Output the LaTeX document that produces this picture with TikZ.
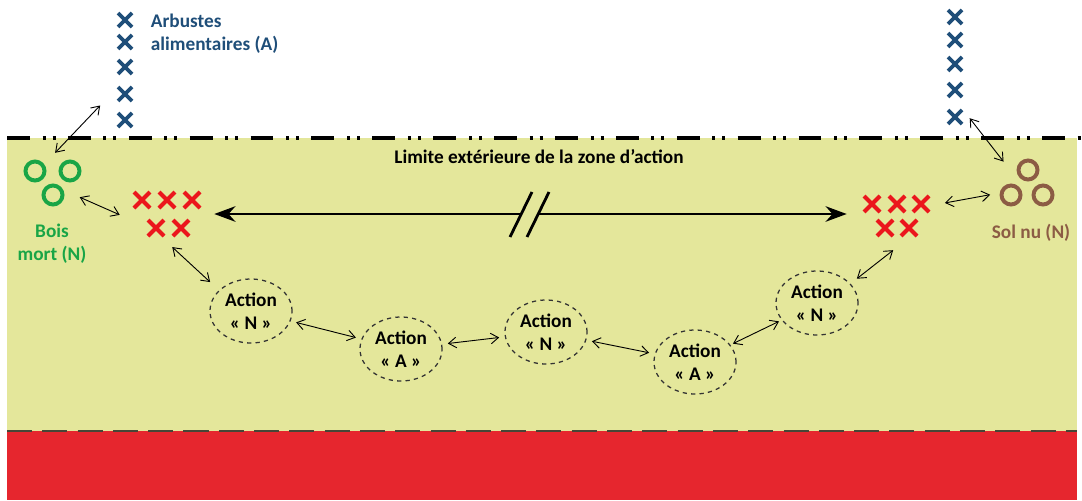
\documentclass[tikz,border=0pt]{standalone}
\usepackage{fontspec}
\setmainfont{Carlito}
\usetikzlibrary{arrows.meta,shapes.geometric}
\definecolor{B}{RGB}{31,78,121}
\definecolor{V}{RGB}{25,165,70}
\definecolor{M}{RGB}{140,92,68}
\definecolor{R}{RGB}{235,22,28}
\definecolor{J}{RGB}{228,231,155}
\definecolor{S}{RGB}{230,38,46}
\definecolor{G}{RGB}{70,70,55}

\begin{document}
\begin{tikzpicture}[x=0.025cm, y=-0.025cm,
    texte/.style={font=\fontsize{13.7}{16.3}\selectfont\bfseries},
    zone/.style={ellipse, inner sep=0pt},
    action/.style={ellipse, draw=black!80, dashed, line width=0.9pt, inner sep=0pt,
        minimum width=2.05cm, minimum height=1.6cm, align=center, texte},
    fleche/.style={<->, >={Straight Barb[length=5.5pt,width=7.5pt]}, line width=0.65pt},
    grande/.style={line width=2pt, >={Stealth[length=15pt,width=11pt]}},
    croix/.pic={\draw (-#1,-#1) -- (#1,#1) (-#1,#1) -- (#1,-#1);}]

    \useasboundingbox[fill=white] (0,0) rectangle (1082,500);

    %Zona de accion (amarillo) y suelo (rojo)
    \fill[color=J] (7,138) rectangle (1077,431);
    \fill[color=S] (7,431) rectangle (1077,500);
    \draw[color=G, line width=1.6pt, dash pattern=on 17.8pt off 7.3pt] (7,431) -- (1077,431);
    \draw[line width=2.2pt, dash pattern=on 16.3pt off 9pt on 2.1pt off 5pt on 2.1pt off 8.8pt] (7,138) -- (1082,138);
    \node[texte] (limite) at (539,157) {Limite extérieure de la zone d’action};

    %Arbustes a la izquierda y a la derecha
    \foreach \y in {20,42,67,94,120}
        \pic[color=B, line width=2.6pt] at (125,\y) {croix=7};
    \foreach \y in {17,40,64,90,117}
        \pic[color=B, line width=2.6pt] at (955,\y) {croix=7};
    \node[texte, color=B, align=left, anchor=west] (txtArb) at (146,33.5) {Arbustes\\alimentaires (A)};
    \node[zone, minimum width=2.15cm, minimum height=2.15cm] (arbG) at (125,70) {};
    \node[zone, minimum width=2.65cm, minimum height=2.65cm] (arbD) at (955,67) {};

    %Bois mort (verde)
    \draw[color=V, line width=2.8pt] (35,171) circle (9.5);
    \draw[color=V, line width=2.8pt] (70,171) circle (9.5);
    \draw[color=V, line width=2.8pt] (53,195) circle (9.5);
    \node[texte, color=V, align=center] (txtBois) at (52,244) {Bois\\mort (N)};
    \node[zone, minimum width=1.5cm, minimum height=1.5cm] (boisG) at (53,183) {};

    %Sol nu (marron)
    \draw[color=M, line width=2.8pt] (1028,170) circle (9.5);
    \draw[color=M, line width=2.8pt] (1011,195) circle (9.5);
    \draw[color=M, line width=2.8pt] (1043,195) circle (9.5);
    \node[texte, color=M] (txtSol) at (1031,233) {Sol nu (N)};
    \node[zone, minimum width=2.15cm, minimum height=1.2cm] (solD) at (1027,182) {};

    %Cruces rojas
    \foreach \x in {142,167,192}
        \pic[color=R, line width=2.8pt] at (\x,200) {croix=8};
    \foreach \x in {156,181}
        \pic[color=R, line width=2.8pt] at (\x,228) {croix=8};
    \foreach \x in {872,897,921}
        \pic[color=R, line width=2.8pt] at (\x,204) {croix=8};
    \foreach \x in {885,909}
        \pic[color=R, line width=2.8pt] at (\x,228) {croix=8};
    \node[zone, minimum width=2.35cm, minimum height=1.65cm] (rougeG) at (167,214) {};
    \node[zone, minimum width=2.5cm, minimum height=1.8cm] (rougeD) at (897,214) {};

    %Acciones
    \node[action] (actN1) at (251,311) {Action\\« N »};
    \node[action] (actA1) at (401,349) {Action\\« A »};
    \node[action] (actN2) at (546,332) {Action\\« N »};
    \node[action] (actA2) at (695,362) {Action\\« A »};
    \node[action] (actN3) at (817,303) {Action\\« N »};

    %Flecha larga con corte
    \coordinate (coupe1) at (521,214);
    \coordinate (coupe2) at (538,214);
    \draw[grande, <-] (rougeG.east) -- (coupe1);
    \draw[grande, ->] (coupe2) -- (rougeD.west);
    \draw[line width=2pt] ([shift={(-11,23)}]coupe1) -- ([shift={(11,-22)}]coupe1);
    \draw[line width=2pt] ([shift={(-11,23)}]coupe2) -- ([shift={(11,-22)}]coupe2);

    %Flechas finas
    \draw[fleche] (boisG.86) -- (arbG.235);
    \draw[fleche] (boisG.-28) -- (rougeG.181);
    \draw[fleche, shorten >=8.5pt] (rougeG.-81) -- (actN1.147);
    \draw[fleche] (rougeD.13) -- (solD.199);
    \draw[fleche] (arbD.-74) -- (solD.139);
    \draw[fleche, shorten >=5.7pt] (rougeD.264) -- (actN3.30);
    \draw[fleche, shorten <=4pt, shorten >=4pt] (actN1) -- (actA1);
    \draw[fleche, shorten <=4pt, shorten >=4pt] (actA1) -- (actN2);
    \draw[fleche, shorten <=4pt, shorten >=4pt] (actN2) -- (actA2);
    \draw[fleche, shorten <=2pt, shorten >=2pt] (actA2) -- (actN3);
\end{tikzpicture}
\end{document}
